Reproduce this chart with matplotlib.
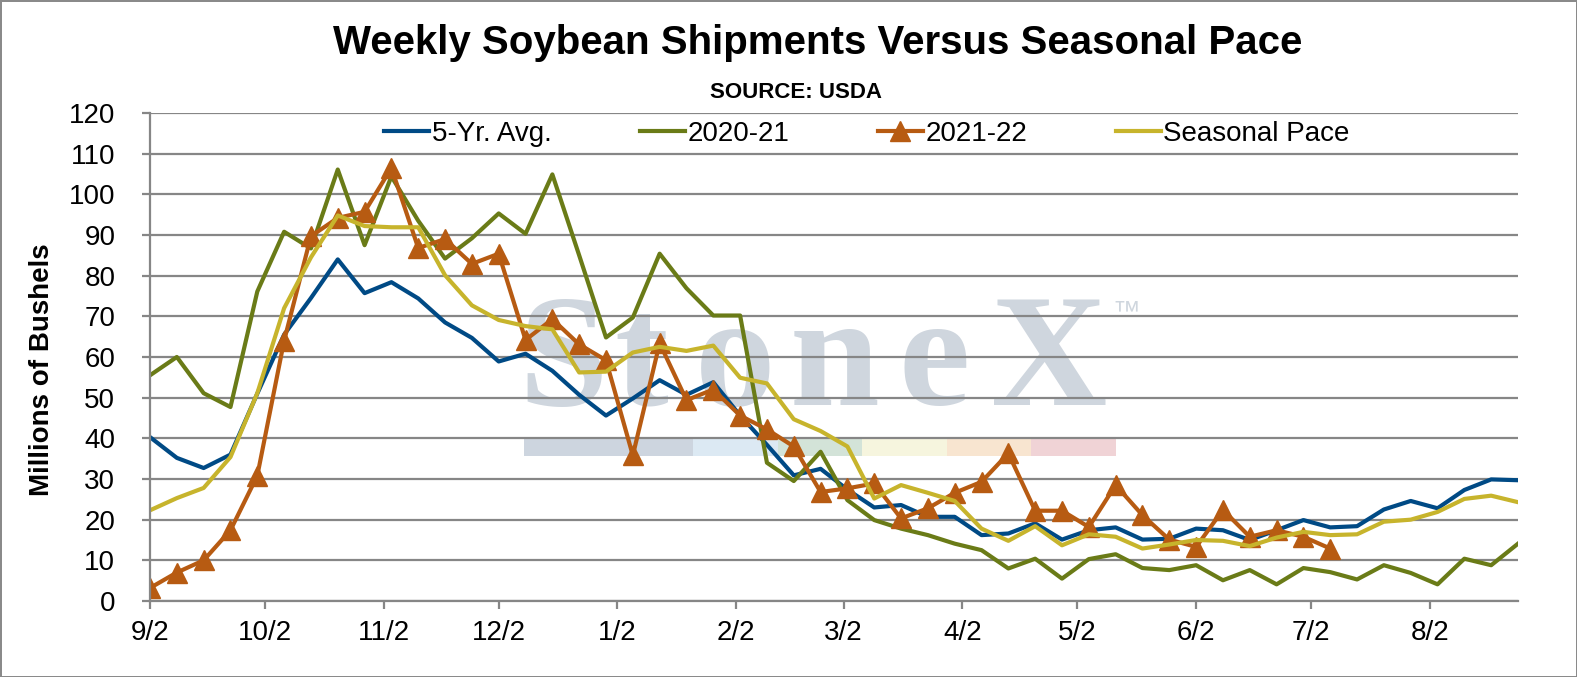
import matplotlib
matplotlib.use("Agg")
import matplotlib.pyplot as plt
import matplotlib.dates as mdates
from matplotlib.ticker import FuncFormatter
from matplotlib.patches import Rectangle
import pandas as pd

plt.rcParams['font.family'] = ['Liberation Sans', 'DejaVu Sans']

# weekly data, first week 9/2/2021
start_week = "2021-09-02"
n_weeks = 52

five_yr_avg = [40.3, 35.2, 32.7, 36.0, 51.0, 65.5, 74.5, 84.0, 75.7, 78.4,
               74.4, 68.5, 64.7, 58.9, 60.8, 56.6, 50.7, 45.6, 49.8, 54.3,
               50.7, 53.8, 45.6, 38.4, 30.9, 32.5, 27.4, 23.0, 23.6, 20.7,
               20.7, 16.2, 16.6, 19.1, 15.1, 17.4, 18.1, 15.1, 15.3, 17.8,
               17.4, 15.0, 17.4, 19.9, 18.1, 18.4, 22.5, 24.6, 22.8, 27.3,
               29.9, 29.7]
yr_2020_21 = [55.5, 60.0, 51.1, 47.7, 76.1, 90.8, 86.7, 106.1, 87.5, 104.4,
              93.5, 84.2, 89.2, 95.3, 90.3, 104.9, 85.0, 64.8, 69.7, 85.4,
              76.9, 70.2, 70.2, 34.0, 29.5, 36.7, 24.8, 19.9, 17.8, 16.2,
              14.1, 12.5, 8.0, 10.4, 5.5, 10.3, 11.5, 8.1, 7.6, 8.8,
              5.1, 7.6, 4.1, 8.1, 7.1, 5.3, 8.8, 6.9, 4.1, 10.4,
              8.8, 14.1]
yr_2021_22 = [3.2, 7.0, 10.0, 17.4, 30.8, 64.0, 89.7, 94.2, 95.7, 106.5,
              86.8, 89.0, 82.9, 85.4, 64.2, 69.3, 63.1, 59.2, 35.8, 63.4,
              49.4, 52.0, 45.6, 42.2, 38.0, 26.8, 27.7, 28.9, 20.3, 22.8,
              26.6, 29.3, 36.3, 22.2, 22.2, 18.2, 28.5, 21.1, 15.1, 13.3,
              22.4, 15.8, 17.4, 15.8, 12.9]
seasonal_pace = [22.3, 25.3, 27.8, 35.4, 51.1, 72.0, 84.5, 94.8, 92.2, 91.9,
                 91.9, 80.1, 72.7, 69.1, 67.6, 66.8, 56.2, 56.4, 61.1, 62.5,
                 61.5, 62.8, 54.9, 53.5, 44.7, 41.8, 38.0, 25.2, 28.5, 26.6,
                 24.6, 17.8, 14.8, 18.4, 13.7, 16.4, 15.8, 12.9, 13.9, 15.0,
                 14.8, 13.5, 15.6, 17.0, 16.2, 16.4, 19.5, 20.0, 21.9, 25.1,
                 25.9, 24.3]

weeks = pd.date_range(start_week, periods=n_weeks, freq="7D")

W, H = 1577, 677
fig = plt.figure(figsize=(W / 100, H / 100), dpi=100,
                 linewidth=2, edgecolor="#8a8a8a")
ax = fig.add_axes([150 / W, 1 - 601 / H, 1368 / W, 488 / H])

grid_col = "#868686"

# StoneX watermark behind the grid
wm_col = "#cfd6de"
for ch, cx in zip("StoneX", [563, 641, 735, 835, 934, 1049]):
    ax.text(cx / W, 1 - 405 / H, ch, transform=fig.transFigure,
            family="Liberation Serif", fontweight="bold", fontsize=116,
            color=wm_col, ha="center", va="baseline", zorder=0.1)
ax.text(1126 / W, 1 - 312 / H, "\u2122", transform=fig.transFigure,
        fontsize=20, color=wm_col, ha="center", va="center", zorder=0.1)
strip = [(524, 693, "#cdd5df"), (693, 778, "#dce9f3"), (778, 862, "#d3e3d8"),
         (862, 947, "#f6f5de"), (947, 1031, "#f8e5d0"), (1031, 1116, "#f0d3d6")]
for x0, x1, c in strip:
    ax.add_artist(Rectangle((x0 / W, 1 - 456 / H), (x1 - x0) / W, 19 / H,
                            transform=fig.transFigure, facecolor=c,
                            edgecolor="none", zorder=0.1))

lw = 3
ax.plot(weeks, five_yr_avg, color="#004a85", lw=lw, label="5-Yr. Avg.", zorder=2)
ax.plot(weeks, yr_2020_21, color="#6a7b17", lw=lw, label="2020-21", zorder=2)
ax.plot(weeks[:len(yr_2021_22)], yr_2021_22, color="#b75b12", lw=lw,
        marker="^", markersize=14, label="2021-22", zorder=2)
ax.plot(weeks, seasonal_pace, color="#c7b42c", lw=lw, label="Seasonal Pace", zorder=2)

ax.set_xlim(weeks[0], weeks[-1])
ax.set_ylim(0, 120)
ax.set_yticks(range(0, 121, 10))
ax.xaxis.set_major_locator(mdates.MonthLocator(bymonthday=2))
ax.xaxis.set_major_formatter(FuncFormatter(
    lambda v, pos: f"{mdates.num2date(v).month}/{mdates.num2date(v).day}"))

ax.set_axisbelow(True)
ax.grid(axis="y", color=grid_col, lw=1.6)
ax.grid(axis="x", visible=False)
for s in ["top", "right"]:
    ax.spines[s].set_visible(False)
for s in ["left", "bottom"]:
    ax.spines[s].set_color(grid_col)
    ax.spines[s].set_linewidth(1.6)
ax.tick_params(axis="y", length=6, width=1.6, color=grid_col, pad=19, labelsize=20)
ax.tick_params(axis="x", length=6, width=1.6, color=grid_col, pad=8, labelsize=20)

fig.text(42 / W, 1 - 370 / H, "Millions of Bushels", rotation=90,
         fontsize=20, fontweight="bold", ha="center", va="center")
fig.text(818 / W, 1 - 54 / H, "Weekly Soybean Shipments Versus Seasonal Pace",
         fontsize=29, fontweight="bold", ha="center", va="baseline")
fig.text(796 / W, 1 - 98 / H, "SOURCE: USDA", fontsize=16,
         fontweight="bold", ha="center", va="baseline")

fig.legend(loc="center", bbox_to_anchor=(867 / W, 1 - 134 / H), ncol=4,
           frameon=False, fontsize=20, handlelength=1.6, handletextpad=0.1,
           columnspacing=3.2)

fig.savefig("out.png", dpi=100, edgecolor=fig.get_edgecolor())
